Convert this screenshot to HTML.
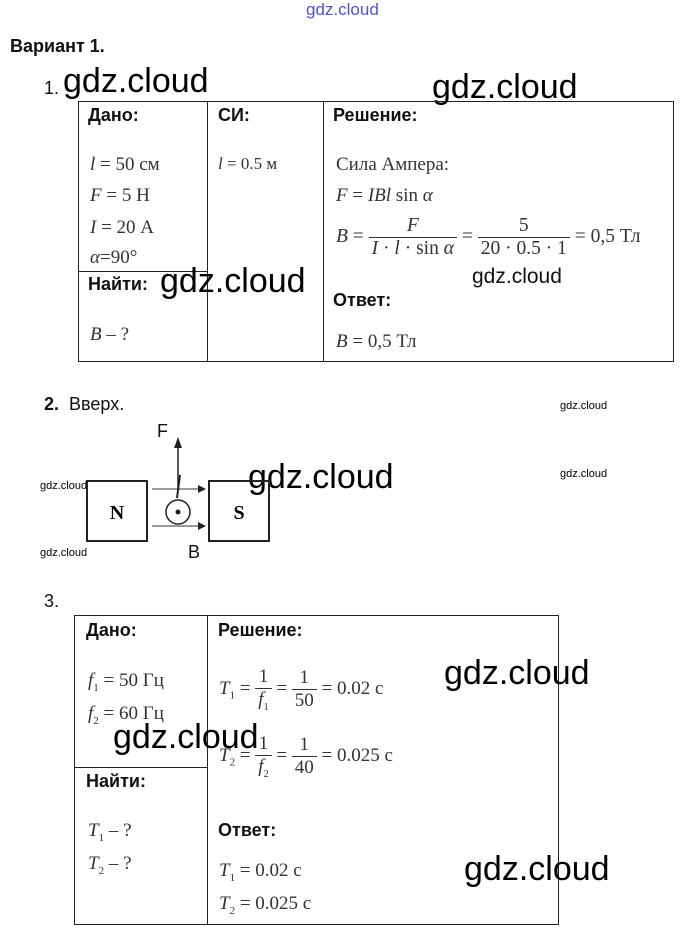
<!DOCTYPE html>
<html><head><meta charset="utf-8"><style>
body{margin:0;width:688px;height:943px;background:#fff;position:relative;overflow:hidden;font-family:"Liberation Sans",sans-serif;color:#111}
.a{position:absolute;white-space:nowrap}
.b{font-weight:bold;font-size:18px}
.s{font-family:"Liberation Serif",serif;font-size:19px;color:#333}
.w{font-size:34px;color:#000}
.ws{font-size:11px;color:#000}
.l{position:absolute;background:#222}
i{font-style:italic}
.fr{display:inline-block;vertical-align:middle;text-align:center}
.fr span{display:block;padding:0 3px}
.fr span:first-child{border-bottom:1px solid #333}
</style></head><body>
<div class="a" style="left:306px;top:0px;font-size:17px;color:#5050d0">gdz.cloud</div>
<div class="a b" style="left:10px;top:36px">Вариант 1.</div>
<div class="a" style="left:44px;top:78px;font-size:18px">1.</div>
<div class="a w" style="left:63px;top:62px">gdz.cloud</div>
<div class="a w" style="left:432px;top:68px">gdz.cloud</div>
<!-- table 1 -->
<div class="l" style="left:78px;top:101px;width:596px;height:1px"></div>
<div class="l" style="left:78px;top:361px;width:596px;height:1px"></div>
<div class="l" style="left:78px;top:101px;width:1px;height:261px"></div>
<div class="l" style="left:207px;top:101px;width:1px;height:261px"></div>
<div class="l" style="left:323px;top:101px;width:1px;height:261px"></div>
<div class="l" style="left:673px;top:101px;width:1px;height:261px"></div>
<div class="l" style="left:78px;top:271px;width:130px;height:1px"></div>
<div class="a b" style="left:88px;top:105px">Дано:</div>
<div class="a b" style="left:218px;top:105px">СИ:</div>
<div class="a b" style="left:333px;top:105px">Решение:</div>
<div class="a s" style="left:90px;top:154px"><i>l</i> = 50 см</div>
<div class="a s" style="left:90px;top:185px"><i>F</i> = 5 Н</div>
<div class="a s" style="left:90px;top:217px"><i>I</i> = 20 А</div>
<div class="a s" style="left:90px;top:247px"><i>α</i>=90°</div>
<div class="a s" style="left:218px;top:154px;font-size:17px"><i>l</i> = 0.5 м</div>
<div class="a s" style="left:336px;top:154px">Сила Ампера:</div>
<div class="a s" style="left:336px;top:185px"><i>F</i> = <i>IBl</i> sin <i>α</i></div>
<div class="a s" style="left:336px;top:215px;font-size:19.5px"><i>B</i> = <span class="fr"><span><i>F</i></span><span><i>I</i> · <i>l</i> · sin <i>α</i></span></span> = <span class="fr"><span>5</span><span>20 · 0.5 · 1</span></span> = 0,5 Тл</div>
<div class="a b" style="left:88px;top:274px">Найти:</div>
<div class="a w" style="left:160px;top:262px">gdz.cloud</div>
<div class="a" style="left:472px;top:265px;font-size:21px">gdz.cloud</div>
<div class="a b" style="left:333px;top:290px">Ответ:</div>
<div class="a s" style="left:90px;top:324px"><i>B</i> – ?</div>
<div class="a s" style="left:336px;top:331px"><i>B</i> = 0,5 Тл</div>
<!-- part 2 -->
<div class="a" style="left:44px;top:394px;font-size:18px"><b>2.</b>&nbsp; Вверх.</div>
<div class="a ws" style="left:560px;top:400px">gdz.cloud</div>
<div class="a ws" style="left:560px;top:468px">gdz.cloud</div>
<div class="a ws" style="left:40px;top:480px">gdz.cloud</div>
<div class="a ws" style="left:40px;top:547px">gdz.cloud</div>
<div class="a w" style="left:248px;top:458px">gdz.cloud</div>
<div class="a" style="left:157px;top:421px;font-size:18px">F</div>
<div class="a" style="left:188px;top:542px;font-size:18px">B</div>
<svg class="a" style="left:0;top:0" width="688" height="943">
<rect x="87" y="481" width="60" height="60" fill="none" stroke="#222" stroke-width="2"/>
<rect x="209" y="481" width="60" height="60" fill="none" stroke="#222" stroke-width="2"/>
<text x="117" y="519" font-family="Liberation Serif" font-weight="bold" font-size="20" text-anchor="middle">N</text>
<text x="239" y="519" font-family="Liberation Serif" font-weight="bold" font-size="20" text-anchor="middle">S</text>
<line x1="178" y1="448" x2="178" y2="488" stroke="#222" stroke-width="1.5"/>
<polygon points="174,448 182,448 178,437" fill="#222"/>
<line x1="152" y1="489" x2="200" y2="489" stroke="#333"/>
<polygon points="198,485 206,489 198,493" fill="#222"/>
<line x1="152" y1="526" x2="200" y2="526" stroke="#333"/>
<polygon points="198,522 206,526 198,530" fill="#222"/>
<line x1="177" y1="498" x2="180" y2="475" stroke="#222" stroke-width="2"/>
<circle cx="178" cy="512" r="12" fill="none" stroke="#222" stroke-width="1.5"/>
<circle cx="178" cy="512" r="2.5" fill="#222"/>
</svg>
<!-- part 3 -->
<div class="a" style="left:44px;top:591px;font-size:18px">3.</div>
<div class="l" style="left:74px;top:615px;width:485px;height:1px"></div>
<div class="l" style="left:74px;top:924px;width:485px;height:1px"></div>
<div class="l" style="left:74px;top:615px;width:1px;height:310px"></div>
<div class="l" style="left:207px;top:615px;width:1px;height:310px"></div>
<div class="l" style="left:558px;top:615px;width:1px;height:310px"></div>
<div class="l" style="left:74px;top:767px;width:134px;height:1px"></div>
<div class="a b" style="left:86px;top:620px">Дано:</div>
<div class="a b" style="left:218px;top:620px">Решение:</div>
<div class="a s" style="left:88px;top:670px"><i>f</i><sub style="font-size:11px">1</sub> = 50 Гц</div>
<div class="a s" style="left:88px;top:703px"><i>f</i><sub style="font-size:11px">2</sub> = 60 Гц</div>
<div class="a s" style="left:219px;top:666px"><i>T</i><sub style="font-size:11px">1</sub> = <span class="fr"><span>1</span><span><i>f</i><sub style="font-size:10px">1</sub></span></span> = <span class="fr"><span>1</span><span>50</span></span> = 0.02 с</div>
<div class="a s" style="left:219px;top:733px"><i>T</i><sub style="font-size:11px">2</sub> = <span class="fr"><span>1</span><span><i>f</i><sub style="font-size:10px">2</sub></span></span> = <span class="fr"><span>1</span><span>40</span></span> = 0.025 с</div>
<div class="a w" style="left:444px;top:654px">gdz.cloud</div>
<div class="a w" style="left:113px;top:718px">gdz.cloud</div>
<div class="a b" style="left:86px;top:771px">Найти:</div>
<div class="a b" style="left:218px;top:820px">Ответ:</div>
<div class="a s" style="left:88px;top:820px"><i>T</i><sub style="font-size:11px">1</sub> – ?</div>
<div class="a s" style="left:88px;top:853px"><i>T</i><sub style="font-size:11px">2</sub> – ?</div>
<div class="a s" style="left:219px;top:860px"><i>T</i><sub style="font-size:11px">1</sub> = 0.02 с</div>
<div class="a s" style="left:219px;top:893px"><i>T</i><sub style="font-size:11px">2</sub> = 0.025 с</div>
<div class="a w" style="left:464px;top:850px">gdz.cloud</div>
</body></html>
